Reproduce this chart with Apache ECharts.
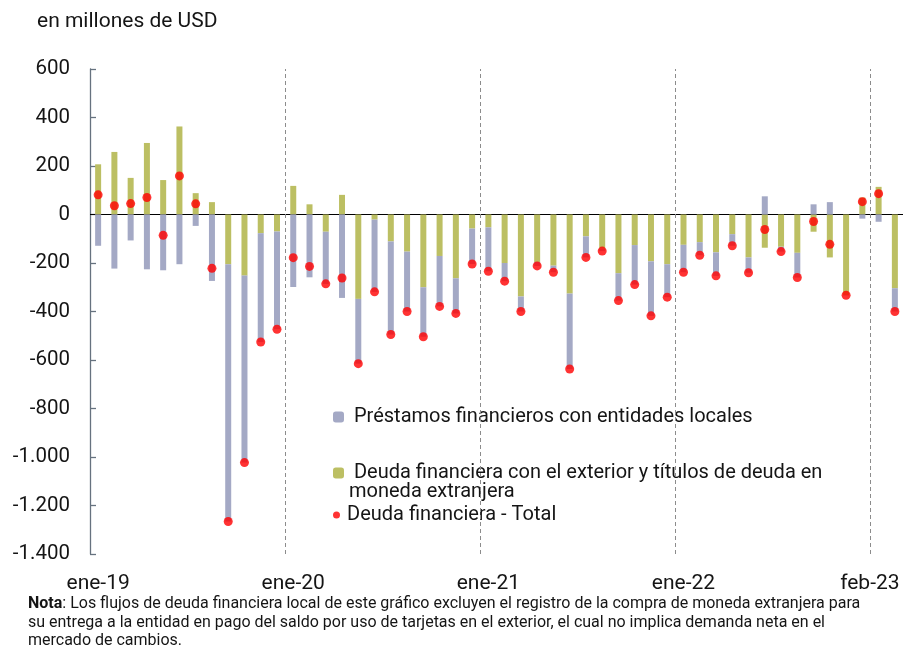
<!DOCTYPE html>
<html>
<head>
<meta charset="utf-8">
<script src="https://cdn.jsdelivr.net/npm/echarts@6/dist/echarts.min.js"></script>
<style>
  html, body { margin: 0; padding: 0; background: #fff; }
  #chart { width: 907px; height: 649px; }
</style>
</head>
<body>
<div id="chart"></div>
<script>
const months = [
  'ene-19', 'feb-19', 'mar-19', 'abr-19', 'may-19', 'jun-19', 'jul-19', 'ago-19', 'sep-19', 'oct-19', 'nov-19', 'dic-19',
  'ene-20', 'feb-20', 'mar-20', 'abr-20', 'may-20', 'jun-20', 'jul-20', 'ago-20', 'sep-20', 'oct-20', 'nov-20', 'dic-20',
  'ene-21', 'feb-21', 'mar-21', 'abr-21', 'may-21', 'jun-21', 'jul-21', 'ago-21', 'sep-21', 'oct-21', 'nov-21', 'dic-21',
  'ene-22', 'feb-22', 'mar-22', 'abr-22', 'may-22', 'jun-22', 'jul-22', 'ago-22', 'sep-22', 'oct-22', 'nov-22', 'dic-22',
  'ene-23', 'feb-23'
]

// préstamos con entidades locales
const prestamosLocales = [
  -129, -223, -107, -226, -230, -205, -47, -274, -1061, -771, -449, -403,
  -299, -259, -215, -344, -267, -298, -384, -247, -204, -208, -145, -146,
  -181, -75, -62, -16, -27, -311, -87, -10, -113, -163, -225, -136,
  -113, -54, -97, -48, -63, 75, -20, -102, 42, 51, -2, -17,
  -30, -96
]

// deuda con el exterior y títulos en moneda extranjera
const deudaExterior = [
  207, 258, 151, 295, 142, 363, 88, 51, -205, -252, -77, -70,
  118, 42, -71, 81, -348, -21, -111, -153, -300, -171, -263, -58,
  -53, -200, -338, -196, -211, -326, -90, -141, -242, -126, -193, -205,
  -125, -114, -156, -81, -177, -137, -133, -158, -71, -177, -332, 70,
  114, -304
]

const deudaTotal = [
  81, 36, 45, 70, -86, 159, 44, -222, -1266, -1023, -526, -473,
  -178, -214, -286, -262, -615, -319, -495, -400, -504, -379, -408, -204,
  -234, -275, -400, -212, -238, -637, -177, -151, -355, -289, -418, -341,
  -238, -168, -253, -129, -240, -62, -153, -260, -29, -123, -333, 53,
  86, -400
]

const shownLabels = [0, 12, 24, 36, 49]
// separaciones entre años (borde izquierdo del mes de enero)
const yearBreaks = [12, 24, 36, 48]

const names = [
  'Préstamos financieros con entidades locales',
  'Deuda financiera con el exterior y títulos de deuda en',
  'Deuda financiera - Total'
]

const txt = '#151515'
const font = 'Roboto'

function fmtThousands (v) {
  const s = String(Math.abs(v)).replace(/\B(?=(\d{3})+(?!\d))/g, '.')
  return (v < 0 ? '-' : '') + s
}

const chart = echarts.init(document.getElementById('chart'))

const legendText = { fontFamily: font, fontSize: 20, color: txt }

const option = {
  animation: false,
  backgroundColor: '#fff',
  textStyle: { fontFamily: font, color: txt },
  grid: { left: 90, right: 4, top: 69, bottom: 95, outerBoundsMode: 'none' },
  legend: [
    {
      data: [names[0]], orient: 'vertical', left: 333, top: 407, padding: 0,
      itemWidth: 11, itemHeight: 11, selectedMode: false,
      formatter: n => ' ' + n, textStyle: legendText
    },
    {
      data: [names[1]], orient: 'vertical', left: 333, top: 463, padding: 0,
      itemWidth: 11, itemHeight: 11, selectedMode: false,
      formatter: n => ' ' + n, textStyle: legendText
    },
    {
      data: [names[2]], orient: 'vertical', left: 333, top: 505, padding: 0,
      itemWidth: 11, itemHeight: 7, selectedMode: false,
      textStyle: legendText
    }
  ],
  graphic: [
    {
      type: 'text', left: 37, top: 11,
      style: { text: 'en millones de USD', fontFamily: font, fontSize: 21, fill: txt }
    },
    {
      type: 'text', left: 349, top: 482,
      style: { text: 'moneda extranjera', fontFamily: font, fontSize: 20, fill: txt }
    },
    {
      type: 'text', left: 28, top: 595,
      style: {
        text: '{b|Nota}: Los flujos de deuda financiera local de este gráfico excluyen el registro de la compra de moneda extranjera para\n' +
          'su entrega a la entidad en pago del saldo por uso de tarjetas en el exterior, el cual no implica demanda neta en el\n' +
          'mercado de cambios.',
        fontFamily: font, fontSize: 16, lineHeight: 18.5, fill: txt,
        rich: { b: { fontFamily: font, fontSize: 16, fontWeight: 'bold', fill: txt } }
      }
    }
  ],
  xAxis: [
    {
      type: 'category',
      data: months,
      axisLine: { show: false },
      axisTick: { show: false },
      axisLabel: {
        interval: i => shownLabels.includes(i),
        margin: 19,
        fontSize: 21,
        fontFamily: font,
        color: txt,
        formatter: (v, i) => i === 49 ? '{r|' + v + '}' : v,
        rich: { r: { fontSize: 21, fontFamily: font, color: txt, padding: [0, 50, 0, 0] } }
      },
      splitLine: { show: false }
    },
    {
      // eje auxiliar (oculto) para ubicar las separaciones entre años
      type: 'value',
      min: 0,
      max: months.length,
      show: false
    }
  ],
  yAxis: {
    type: 'value',
    min: -1400,
    max: 600,
    interval: 200,
    axisLine: { show: true, lineStyle: { color: '#66727f', width: 1.3 } },
    axisTick: { show: true, inside: true, length: 6, lineStyle: { color: '#66727f', width: 1.3 } },
    splitLine: { show: false },
    axisLabel: { fontSize: 20.5, fontFamily: font, color: txt, margin: 20, formatter: fmtThousands }
  },
  series: [
    {
      name: names[1],
      type: 'bar',
      stack: 'deuda',
      barWidth: 6,
      data: deudaExterior,
      itemStyle: { color: '#bcbf63' }
    },
    {
      name: names[0],
      type: 'bar',
      stack: 'deuda',
      barWidth: 6,
      data: prestamosLocales,
      itemStyle: { color: '#a4a9c5' }
    },
    {
      name: names[2],
      type: 'scatter',
      data: deudaTotal,
      symbol: 'circle',
      symbolSize: 9,
      z: 5,
      itemStyle: { color: '#ff0000' },
      markLine: {
        silent: true,
        symbol: ['none', 'none'],
        label: { show: false },
        lineStyle: { color: '#000', type: 'solid', width: 1.2 },
        data: [{ yAxis: 0 }],
        z: 1
      }
    },
    {
      name: 'años',
      type: 'scatter',
      xAxisIndex: 1,
      data: [],
      silent: true,
      markLine: {
        silent: true,
        symbol: ['none', 'none'],
        label: { show: false },
        lineStyle: { color: '#8c8c8c', type: [4, 3], width: 1 },
        data: yearBreaks.map(b => ({ xAxis: b }))
      }
    }
  ]
}

chart.setOption(option)
</script>
</body>
</html>
